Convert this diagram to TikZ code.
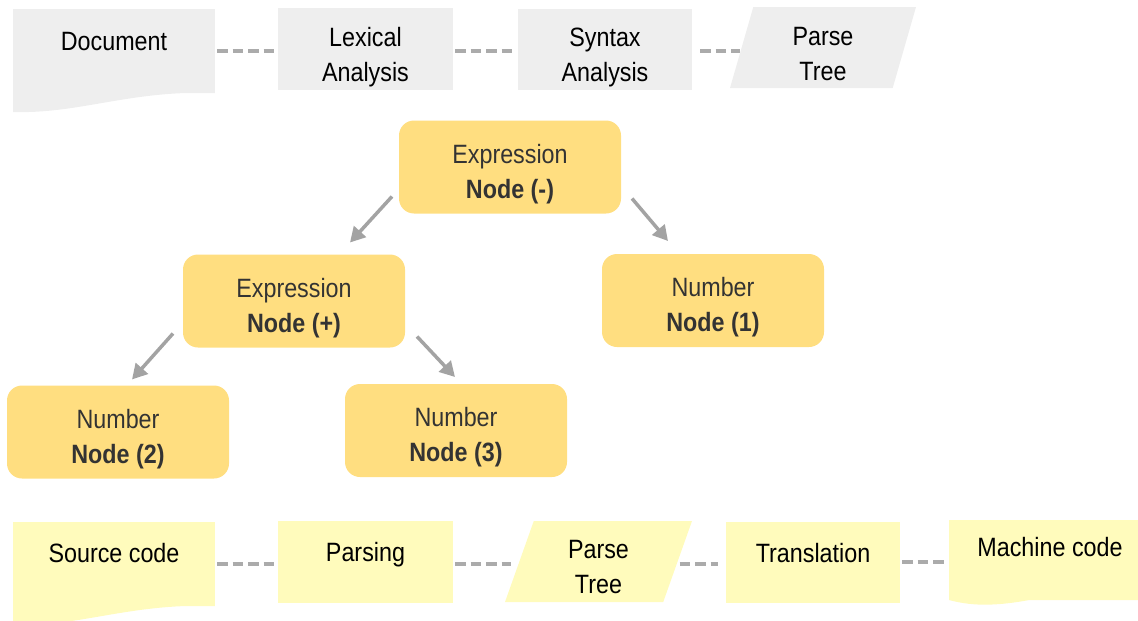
\documentclass[tikz,border=0pt]{standalone}
\usepackage{fontspec}
\setmainfont{Liberation Sans}[FakeStretch=0.88]
\usetikzlibrary{arrows.meta,calc,shapes.geometric}

\definecolor{stagegray}{HTML}{EEEEEE}
\definecolor{stageyellow}{HTML}{FFFBBC}
\definecolor{treegold}{HTML}{FFDE80}
\definecolor{linkgray}{HTML}{ABABAB}
\definecolor{arrowgray}{HTML}{A3A3A3}
\definecolor{treetext}{HTML}{333333}

\begin{document}
\begin{tikzpicture}[x=1pt,y=-1pt,
  every node/.style={inner sep=0pt, outer sep=0pt,
    font=\fontsize{26.5}{35}\selectfont},
  stagebox/.style={rectangle, align=center, text=black},
  onelabel/.style={text height=19pt, text depth=#1},
  twolabel/.style={text height=#1, text depth=0pt},
  parabox/.style={trapezium, trapezium stretches body, align=center,
    text=black, trapezium left angle=#1, trapezium right angle=180-#1},
  treebox/.style={rectangle, rounded corners=15pt, fill=treegold,
    text=treetext, align=center, minimum width=222pt, minimum height=93pt,
    text height=62pt, text depth=0pt},
  link/.style={draw=linkgray, line width=4pt, dash pattern=on 10.5pt off 5pt,
    shorten <=2pt, shorten >=2pt},
  branch/.style={draw=arrowgray, line width=3.5pt,
    -{Triangle[length=15pt,width=16pt]}},
]
\useasboundingbox (0,0) rectangle (1138,621);
\clip (0,0) rectangle (1138,621);

% ---------- compiler pipeline (top row) ----------
\node[stagebox, fill=stagegray, minimum width=202pt, minimum height=84pt,
      onelabel=20pt] (doc) at (114,51) {Document};
\fill[stagegray] (doc.south east) .. controls +(-85,-3) and +(67,2)
      .. ([yshift=-19pt]doc.south west) -- (doc.south west) -- cycle;
\node[stagebox, fill=stagegray, minimum width=175pt, minimum height=82pt,
      twolabel=64pt] (lex) at (365.5,49) {Lexical\\Analysis};
\node[stagebox, fill=stagegray, minimum width=174pt, minimum height=81pt,
      twolabel=64pt] (syn) at (605,49.5) {Syntax\\Analysis};
\node[parabox=70.3, fill=stagegray, minimum width=186pt, minimum height=81pt,
      twolabel=65pt] (ptop) at (823,47.5) {Parse\\Tree};

\draw[link] (doc.east) -- (doc.east -| lex.west);
\draw[link] (lex.east |- doc.east) -- (syn.west |- doc.east);
\draw[link, shorten <=8pt] (syn.east |- doc.east) -- (ptop.west |- doc.east);

% ---------- parse tree ----------
\node[treebox] (minus) at (510,167) {Expression\\\textbf{Node (-)}};
\node[treebox] (plus)  at (294,301) {Expression\\\textbf{Node (+)}};
\node[treebox] (one)   at (713,300.5) {Number\\\textbf{Node (1)}};
\node[treebox] (two)   at (118,432) {Number\\\textbf{Node (2)}};
\node[treebox] (three) at (456,430.5) {Number\\\textbf{Node (3)}};

\draw[branch] ([xshift=-7pt,yshift=17pt]minus.south west)
           -- ([xshift=56pt,yshift=12pt]plus.north);
\draw[branch] ([xshift=11pt,yshift=15pt]minus.south east)
           -- ([xshift=-45pt,yshift=13pt]one.north);
\draw[branch] ([xshift=-10pt,yshift=14pt]plus.south west)
           -- ([xshift=14pt,yshift=6pt]two.north);
\draw[branch] ([xshift=12pt,yshift=11pt]plus.south east)
           -- ([xshift=-1pt,yshift=7pt]three.north);

% ---------- translation pipeline (bottom row) ----------
\node[stagebox, fill=stageyellow, minimum width=202pt, minimum height=84pt,
      onelabel=22pt] (src) at (114,564) {Source code};
\fill[stageyellow] (src.south east) .. controls +(-85,-3) and +(67,2)
      .. ([yshift=-19pt]src.south west) -- (src.south west) -- cycle;
\node[stagebox, fill=stageyellow, minimum width=175pt, minimum height=82pt,
      onelabel=20pt] (pars) at (365.5,562) {Parsing};
\node[parabox=65.45, fill=stageyellow, minimum width=187pt, minimum height=81pt,
      twolabel=63pt] (pbot) at (598.5,561.5) {Parse\\Tree};
\node[stagebox, fill=stageyellow, minimum width=174pt, minimum height=81pt,
      onelabel=20pt] (trans) at (813,562.5) {Translation};
\node[stagebox, fill=stageyellow, minimum width=202pt, minimum height=80pt,
      onelabel=26pt] (mach) at (1050,560) {Machine code};
\fill[stageyellow] (mach.south west) .. controls +(26,7) and +(-40,8)
      .. ([xshift=91pt,yshift=2pt]mach.south west)
      .. controls +(50,-8) and +(-30,1) .. ([yshift=11pt]mach.south east)
      -- (mach.south east) -- cycle;

\draw[link] (src.east) -- (src.east -| pars.west);
\draw[link, shorten >=8pt] (pars.east |- src.east) -- (pbot.west |- src.east);
\draw[link, shorten >=8pt] (pbot.east |- src.east) -- (trans.west |- src.east);
\draw[link] ([yshift=1pt]trans.east) -- ([yshift=1pt]trans.east -| mach.west);
\end{tikzpicture}
\end{document}
